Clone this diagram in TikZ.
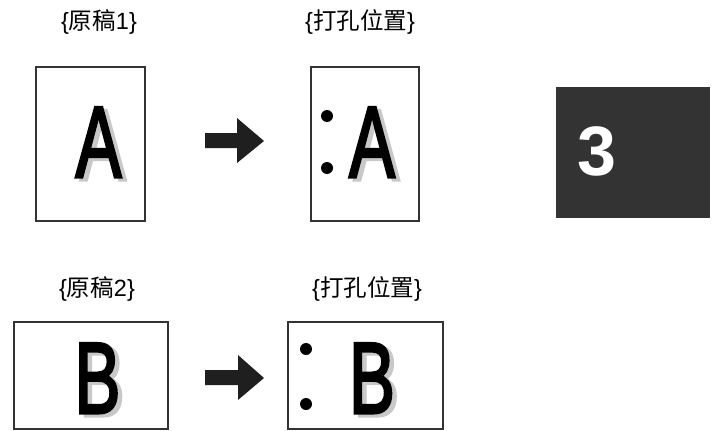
\documentclass[tikz,border=0pt]{standalone}
\usepackage{fontspec}
\setmainfont{Liberation Sans}
\newfontfamily\cjk{Noto Sans CJK SC}
\newfontfamily\letterfont[FakeBold=3]{Liberation Sans}
\definecolor{boxline}{HTML}{333333}
\definecolor{shadowgray}{HTML}{C8C8C8}
\definecolor{tabdark}{HTML}{333333}
\begin{document}
\begin{tikzpicture}[x=1pt,y=-1pt,
  sheet/.style={draw=boxline,line width=1.4pt,fill=white},
  lbl/.style={inner sep=0pt,font=\fontsize{23.5}{27}\selectfont},
  bigletter/.style={inner sep=0pt,anchor=base,xscale=0.68,font=\letterfont\fontsize{101}{110}\selectfont},
  shadowletter/.style={bigletter,text=shadowgray},
  hole/.style={fill=black},
  bigarrow/.style={fill=black!88}]
\useasboundingbox (0,0) rectangle (718,431);
% labels
\node[lbl] (l1) at (99,22) {\{{\cjk 原稿}1\}};
\node[lbl] (l2) at (360,22) {\{{\cjk 打孔位置}\}};
\node[lbl] (l3) at (97,289) {\{{\cjk 原稿}2\}};
\node[lbl] (l4) at (367,289) {\{{\cjk 打孔位置}\}};
% sheets
\draw[sheet] (36,67) rectangle (145,221);
\draw[sheet] (311,67) rectangle (419,221);
\draw[sheet] (14,322) rectangle (168,429);
\draw[sheet] (288,322) rectangle (443,429);
% letters with shadows
\node[shadowletter] (sa1) at (103,180) {A};
\node[bigletter] (a1) at (98.5,177) {A};
\node[shadowletter] (sa2) at (376.5,180) {A};
\node[bigletter] (a2) at (372,177) {A};
\node[shadowletter] (sb1) at (102,416) {B};
\node[bigletter] (b1) at (97.5,413) {B};
\node[shadowletter] (sb2) at (376.5,416) {B};
\node[bigletter] (b2) at (372,413) {B};
% punch holes
\fill[hole] (327,116) circle (6);
\fill[hole] (327,168) circle (6);
\fill[hole] (306,349) circle (6);
\fill[hole] (306,404) circle (6);
% arrows
\fill[bigarrow] (205,133) -- (237,133) -- (237,118) -- (264,141) -- (237,163) -- (237,148) -- (205,148) -- cycle;
\fill[bigarrow] (205,370) -- (238,370) -- (238,355) -- (264,378) -- (238,400) -- (238,385) -- (205,385) -- cycle;
% chapter tab
\fill[tabdark] (556,87) rectangle (710,218);
\node[inner sep=0pt,anchor=base,text=white,font=\bfseries\fontsize{70}{75}\selectfont] (tab) at (597,175) {3};
\end{tikzpicture}
\end{document}
